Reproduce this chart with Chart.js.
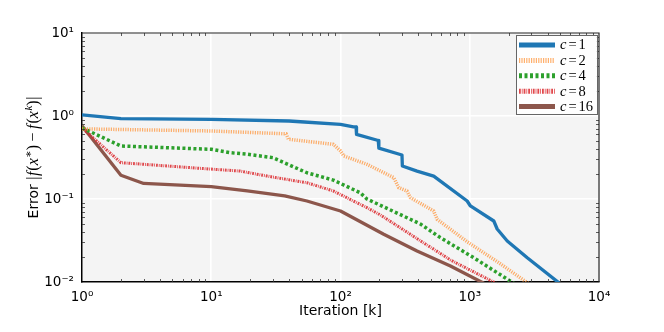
<!DOCTYPE html>
<html><head><meta charset="utf-8">
<script src="https://cdn.jsdelivr.net/npm/chart.js@4/dist/chart.umd.min.js"></script>
<style>html,body{margin:0;padding:0;background:#fff}</style>
</head><body>
<canvas id="c" width="664" height="332"></canvas>
<script>
// ---- data ----
const cValues = ['1', '2', '4', '8', '16'];
const xTickValues = [1, 10, 100, 1000, 10000];
const xTickLabels = ['10\u2070', '10\u00B9', '10\u00B2', '10\u00B3', '10\u2074'];
const yTickValues = [0.01, 0.1, 1, 10];
const yTickLabels = ['10\u207B\u00B2', '10\u207B\u00B9', '10\u2070', '10\u00B9'];
const xTitle = 'Iteration [k]';
const yTitleWord = 'Error';

const iterC1 = [1, 2, 10, 40, 49, 100, 126, 132, 133, 196, 198, 299, 301, 391, 526, 955, 1012, 1535, 1630, 1950, 2786, 5100];
const errC1  = [1.03, 0.93, 0.91, 0.87, 0.853, 0.794, 0.74, 0.737, 0.60, 0.507, 0.41, 0.339, 0.25, 0.217, 0.189, 0.0946, 0.0824, 0.0543, 0.0435, 0.0312, 0.0196, 0.0093];

const iterC2 = [1, 10, 38, 39.5, 88, 100, 106, 160, 258, 282, 327, 347, 526, 559, 956, 1667, 2900];
const errC2  = [0.70, 0.66, 0.61, 0.525, 0.456, 0.38, 0.33, 0.262, 0.181, 0.137, 0.125, 0.104, 0.0717, 0.057, 0.0305, 0.0172, 0.0094];

const iterC4 = [1, 2, 10, 14, 19, 30, 55, 88, 142, 160, 347, 415, 593, 1074, 2200];
const errC4  = [0.72, 0.435, 0.397, 0.361, 0.346, 0.315, 0.207, 0.169, 0.119, 0.10, 0.057, 0.05, 0.0342, 0.0196, 0.0096];

const iterC8 = [1, 2, 10.4, 16.7, 27, 55, 88, 160, 203, 347, 709, 1630];
const errC8  = [0.72, 0.274, 0.228, 0.217, 0.189, 0.157, 0.125, 0.0786, 0.0644, 0.0376, 0.0184, 0.0095];

const iterC16 = [1, 2, 3, 10, 19, 37, 55, 100, 216, 391, 709, 1330];
const errC16  = [0.76, 0.193, 0.154, 0.141, 0.125, 0.109, 0.0946, 0.0717, 0.0376, 0.0236, 0.0156, 0.0094];

// ---- build ----
const pts = (xs, ys) => xs.map((x, i) => ({x: x, y: ys[i]}));
const styles = [
  {color: '#1f77b4', width: 3.3, dash: [], lw: 5, ldash: []},
  {color: 'rgba(255,150,60,0.75)', width: 3.5, dash: [1.2, 1.2], lw: 5, ldash: [1.2, 1.2]},
  {color: '#2ca02c', width: 3.5, dash: [3, 2.5], lw: 5, ldash: [3, 2.5]},
  {color: 'rgba(220,40,45,0.85)', width: 3, dash: [1.8, 1, 0.8, 1], lw: 5, ldash: [1.8, 1, 0.8, 1]},
  {color: '#8c564b', width: 3.3, dash: [], lw: 5, ldash: []}
];
const series = [[iterC1, errC1], [iterC2, errC2], [iterC4, errC4], [iterC8, errC8], [iterC16, errC16]];

const datasets = series.map((s, i) => ({
  label: 'c = ' + cValues[i],
  data: pts(s[0], s[1]),
  borderColor: styles[i].color,
  borderWidth: styles[i].width,
  borderDash: styles[i].dash,
  borderCapStyle: 'butt',
  borderJoinStyle: 'round',
  pointRadius: 0,
  tension: 0,
  fill: false,
  clip: 0
}));

function drawSegs(ctx, segs, x, y) {
  let cx = x;
  for (const s of segs) {
    ctx.font = s.font;
    ctx.fillText(s.t, cx, y + (s.dy || 0));
    cx += ctx.measureText(s.t).width + (s.after || 0);
  }
  return cx - x;
}
function segsWidth(ctx, segs) {
  let w = 0;
  for (const s of segs) { ctx.font = s.font; w += ctx.measureText(s.t).width + (s.after || 0); }
  return w;
}

const decor = {
  id: 'decor',
  beforeDraw(chart) {
    const {ctx, chartArea: a} = chart;
    ctx.save();
    ctx.fillStyle = '#f4f4f4';
    ctx.fillRect(a.left, a.top, a.right - a.left, a.bottom - a.top);
    ctx.restore();
  },
  afterDraw(chart) {
    const {ctx, chartArea: a, scales} = chart;
    const xs = scales.x, ys = scales.y;
    ctx.save();
    // minor ticks
    ctx.strokeStyle = '#333';
    ctx.lineWidth = 0.8;
    ctx.beginPath();
    for (let k = 0; k < 4; k++) {
      for (let m = 2; m <= 9; m++) {
        const px = Math.round(xs.getPixelForValue(m * Math.pow(10, k))) + 0.5;
        ctx.moveTo(px, a.bottom); ctx.lineTo(px, a.bottom - 3);
        ctx.moveTo(px, a.top); ctx.lineTo(px, a.top + 3);
      }
    }
    for (let k = -2; k < 1; k++) {
      for (let m = 2; m <= 9; m++) {
        const py = Math.round(ys.getPixelForValue(m * Math.pow(10, k))) + 0.5;
        ctx.moveTo(a.left, py); ctx.lineTo(a.left + 3, py);
        ctx.moveTo(a.right, py); ctx.lineTo(a.right - 3, py);
      }
    }
    ctx.stroke();
    // top & right frame
    ctx.strokeStyle = '#222';
    ctx.lineWidth = 1.2;
    ctx.beginPath();
    ctx.moveTo(a.left, a.top); ctx.lineTo(a.right, a.top); ctx.lineTo(a.right, a.bottom);
    ctx.stroke();

    // legend
    const bx = a.right - 83, by = a.top + 2, bw = 81, bh = 79;
    ctx.fillStyle = 'rgba(255,255,255,0.85)';
    ctx.fillRect(bx, by, bw, bh);
    ctx.strokeStyle = '#666';
    ctx.lineWidth = 1;
    ctx.strokeRect(bx + 0.5, by + 0.5, bw, bh);
    chart.data.datasets.forEach((ds, i) => {
      const st = styles[i];
      const yy = by + 10 + i * 15.4;
      ctx.save();
      ctx.strokeStyle = st.color;
      ctx.lineWidth = st.lw;
      ctx.lineCap = 'butt';
      ctx.setLineDash(st.ldash);
      ctx.beginPath();
      ctx.moveTo(bx + 3, yy); ctx.lineTo(bx + 39, yy);
      ctx.stroke();
      ctx.restore();
      ctx.fillStyle = '#000';
      ctx.textBaseline = 'middle';
      ctx.textAlign = 'left';
      drawSegs(ctx, [
        {t: 'c', font: 'italic 14.5px "Liberation Serif"', after: 2},
        {t: '=', font: '14.5px "Liberation Serif"', after: 2},
        {t: cValues[i], font: '14.5px "Liberation Serif"'}
      ], bx + 44, yy + 0.5);
    });

    // y-axis title
    const M = '16px "Liberation Serif"', MI = 'italic 16px "Liberation Serif"';
    const segs = [
      {t: yTitleWord + ' ', font: '14px "DejaVu Sans"'},
      {t: '|', font: M, after: 0.5},
      {t: 'f', font: MI, after: 1},
      {t: '(', font: M},
      {t: 'x', font: MI, after: 0.5},
      {t: '\u2217', font: '11px "DejaVu Serif"', dy: -6},
      {t: ')', font: M, after: 3.5},
      {t: '\u2212', font: M, after: 3.5},
      {t: 'f', font: MI, after: 1},
      {t: '(', font: M},
      {t: 'x', font: MI, after: 0.5},
      {t: 'k', font: 'italic 11px "Liberation Serif"', dy: -6},
      {t: ')', font: M, after: 0.5},
      {t: '|', font: M}
    ];
    ctx.save();
    ctx.translate(33, (a.top + a.bottom) / 2);
    ctx.rotate(-Math.PI / 2);
    ctx.fillStyle = '#000';
    ctx.textBaseline = 'alphabetic';
    ctx.textAlign = 'left';
    const w = segsWidth(ctx, segs);
    drawSegs(ctx, segs, -w / 2, 5);
    ctx.restore();
    ctx.restore();
  }
};

const tickFont = {family: 'DejaVu Sans', size: 13.5};

new Chart(document.getElementById('c'), {
  type: 'line',
  data: {datasets: datasets},
  options: {
    responsive: false,
    devicePixelRatio: 1,
    animation: false,
    layout: {padding: {top: 33, right: 65, bottom: 0, left: 0}},
    plugins: {legend: {display: false}, tooltip: {enabled: false}},
    scales: {
      x: {
        type: 'logarithmic', min: 1, max: 10000,
        afterBuildTicks: (s) => { s.ticks = xTickValues.map(v => ({value: v, major: true})); },
        afterFit: (s) => { s.height = 50; },
        grid: {color: '#ffffff', lineWidth: 1.6, drawTicks: false},
        border: {display: true, color: '#000', width: 1.5},
        ticks: {
          font: tickFont, color: '#000', padding: 7, autoSkip: false, maxRotation: 0,
          callback: (v) => xTickLabels[Math.round(Math.log10(v))]
        },
        title: {display: true, text: xTitle, font: {family: 'DejaVu Sans', size: 14}, color: '#000', padding: {top: 0, bottom: 12}}
      },
      y: {
        type: 'logarithmic', min: 0.01, max: 10,
        afterBuildTicks: (s) => { s.ticks = yTickValues.map(v => ({value: v, major: true})); },
        afterFit: (s) => { s.width = 82; },
        grid: {color: '#ffffff', lineWidth: 1.6, drawTicks: false},
        border: {display: true, color: '#000', width: 1.5},
        ticks: {
          font: tickFont, color: '#000', padding: 8, autoSkip: false,
          callback: (v) => yTickLabels[Math.round(Math.log10(v)) + 2]
        }
      }
    }
  },
  plugins: [decor]
});
</script>
</body></html>
